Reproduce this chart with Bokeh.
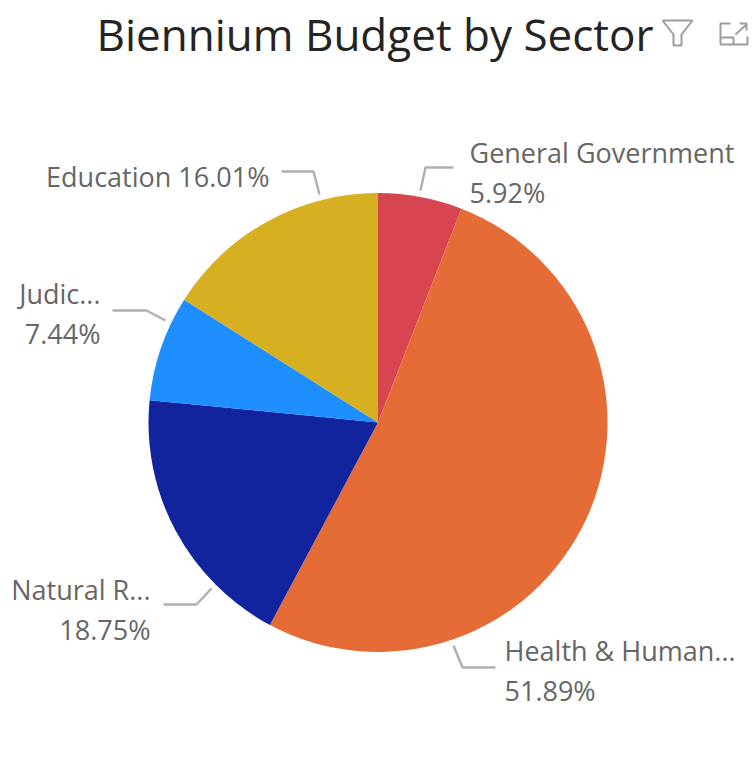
from bokeh.plotting import figure
from bokeh.embed import file_html
from bokeh.resources import INLINE
from bokeh.models import Range1d
from bokeh.core.properties import value
import numpy as np

sectors = ["General Government", "Health & Human Services", "Natural Resources", "Judiciary", "Education"]
shares = [5.92, 51.89, 18.75, 7.44, 16.01]
colors = ["#D64550", "#E66C37", "#12239E", "#1F8FFF", "#D7B021"]
label_lines = [["General Government", "5.92%"], ["Health & Human...", "51.89%"], ["Natural R...", "18.75%"], ["Judic...", "7.44%"], ["Education 16.01%"]]
label_xy = [(469, 152), (504, 650), (150, 589), (100, 293), (269, 176)]
label_align = ["left", "left", "right", "right", "right"]
leaders = [
    ([453, 425, 420], [167, 167, 190]),
    ([495, 462, 453], [667, 667, 645]),
    ([163, 196, 211], [604, 604, 588]),
    ([112, 146, 165], [310, 310, 320]),
    ([281, 313, 319], [171, 171, 194]),
]

W, H = 756, 775
p = figure(width=W, height=H, output_backend="svg", toolbar_location=None,
           x_range=Range1d(0, W), y_range=Range1d(H, 0), min_border=0)
p.axis.visible = False
p.grid.visible = False
p.outline_line_color = None
cx, cy, r = 377.5, 422, 229.5
total = sum(shares)
start = -np.pi / 2
for s, c in zip(shares, colors):
    end = start + s / total * 2 * np.pi
    p.wedge(x=[cx], y=[cy], radius=r, start_angle=-end, end_angle=-start, direction="anticlock",
            fill_color=c, line_color=None)
    start = end

for xs, ys in leaders:
    p.line(xs, ys, line_color="#B0B0B0", line_width=2.5)

for lines, (x, y), al in zip(label_lines, label_xy, label_align):
    for i, t in enumerate(lines):
        p.text(x=[x], y=[y + i * 40], text=[t], text_align=al, text_baseline="middle",
               text_font=value("Open Sans"), text_font_size="27px", text_color="#666666")

p.text(x=[96], y=[33], text=["Biennium Budget by Sector"], text_baseline="middle",
       text_font=value("Open Sans"), text_font_size="44px", text_color="#252423")

icon = "#9C9C9C"
p.line([662, 692, 681, 681, 673, 673, 662], [20, 20, 34, 45, 45, 34, 20], line_color=icon, line_width=2)
p.line([730, 720, 720, 747, 747], [23, 23, 44, 44, 36], line_color=icon, line_width=2)
p.line([720, 733, 733], [37, 37, 44], line_color=icon, line_width=2)
p.line([735, 746], [34, 24], line_color=icon, line_width=2)
p.line([739, 746, 746], [23, 23, 30], line_color=icon, line_width=2)

open("out.html", "w").write(file_html(p, INLINE))
